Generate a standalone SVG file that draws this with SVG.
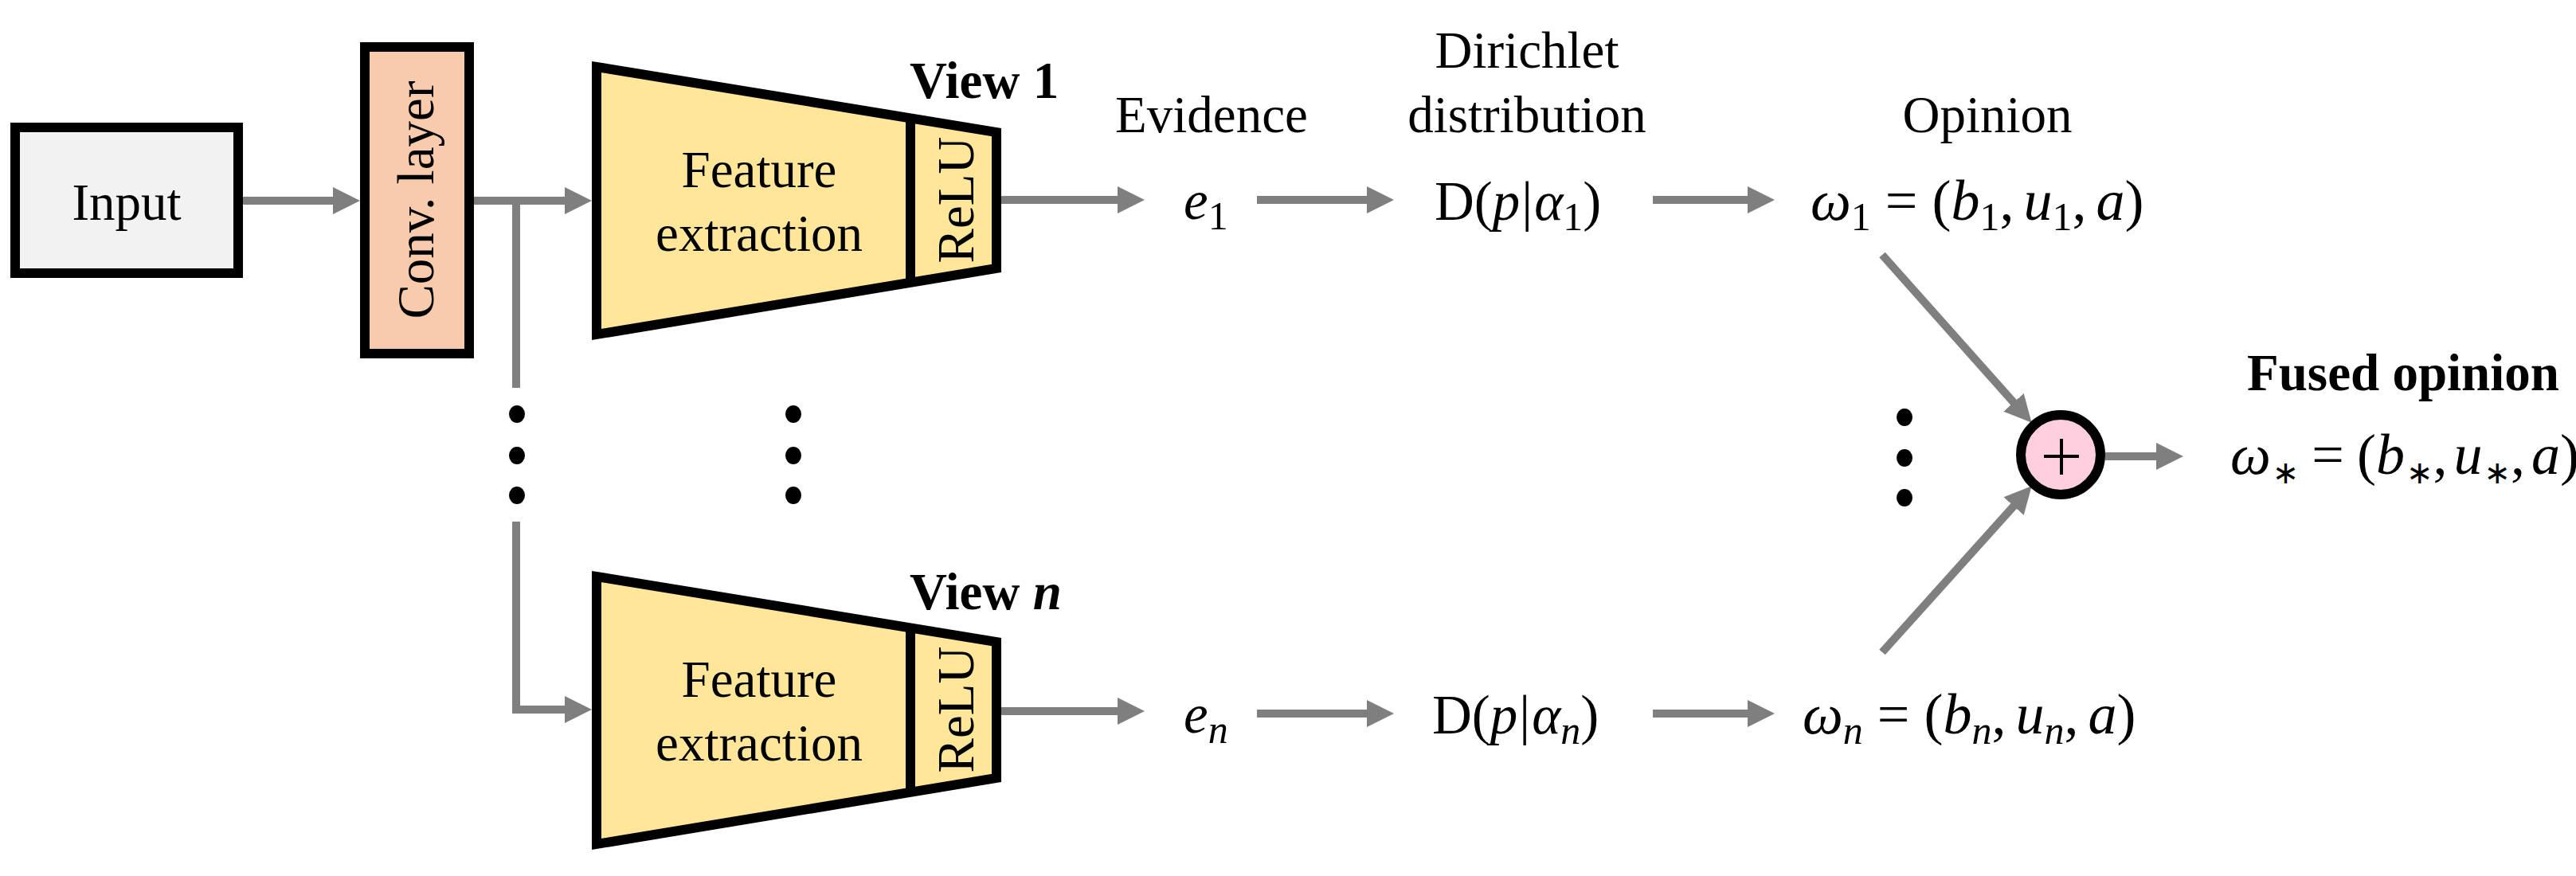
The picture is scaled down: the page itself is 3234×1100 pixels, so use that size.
<svg xmlns="http://www.w3.org/2000/svg" width="3234" height="1100" viewBox="0 0 3234 1100">
<style>
  .t { font-family: "Liberation Serif", "DejaVu Serif", serif; font-size: 65px; fill: #000; }
  .b { font-weight: bold; }
  .m { font-family: "Liberation Serif", "DejaVu Serif", serif; font-size: 72px; fill: #000; }
  .md { font-family: "Liberation Serif", "DejaVu Serif", serif; font-size: 69px; fill: #000; }
  .i { font-style: italic; }
  .s { font-size: 50px; }
  .st { font-family: "DejaVu Sans", sans-serif; font-size: 40px; }
  .blk { stroke: #000; stroke-width: 12; stroke-linejoin: miter; }
  .con { stroke: #7f7f7f; stroke-width: 10; fill: none; marker-end: url(#ah); }
  .plain { stroke: #7f7f7f; stroke-width: 10; fill: none; }
  .dot { fill: #000; }
</style>
<defs>
  <marker id="ah" markerUnits="userSpaceOnUse" markerWidth="34" markerHeight="34" refX="3" refY="17" orient="auto">
    <path d="M0,0 L34,17 L0,34 z" fill="#7f7f7f"/>
  </marker>
</defs>
<rect width="3234" height="1100" fill="#fff"/>

<g id="connectors">
  <line class="con" x1="305" y1="252" x2="421" y2="252"/>
  <line class="con" x1="595" y1="252" x2="712" y2="252"/>
  <line class="plain" x1="648" y1="252" x2="648" y2="487"/>
  <path class="con" d="M648,655 V891 H712"/>
  <line class="con" x1="1257" y1="251" x2="1406" y2="251"/>
  <line class="con" x1="1578" y1="251" x2="1719" y2="251"/>
  <line class="con" x1="2075" y1="251" x2="2197" y2="251"/>
  <line class="con" x1="1257" y1="893" x2="1406" y2="893"/>
  <line class="con" x1="1578" y1="896" x2="1719" y2="896"/>
  <line class="con" x1="2075" y1="896" x2="2197" y2="896"/>
  <line class="con" x1="2363" y1="320" x2="2530" y2="507.6"/>
  <line class="con" x1="2363" y1="819" x2="2530" y2="633.3"/>
  <line class="con" x1="2643" y1="573" x2="2710" y2="573"/>
</g>

<g id="input">
  <rect class="blk" x="19" y="160" width="280" height="183" fill="#f2f2f2"/>
  <text class="t" x="159" y="276" text-anchor="middle">Input</text>
</g>

<g id="conv">
  <rect class="blk" x="458" y="59" width="131" height="385" fill="#f8cbad"/>
  <text class="t" transform="translate(544,251) rotate(-90)" text-anchor="middle">Conv. layer</text>
</g>

<g id="view1">
  <polygon class="blk" points="749,84 1251,166 1251,337 749,420" fill="#ffe699"/>
  <line class="blk" x1="1143" y1="148" x2="1143" y2="356"/>
  <text class="t" x="953" y="235" text-anchor="middle">Feature</text>
  <text class="t" x="953" y="315" text-anchor="middle">extraction</text>
  <text class="t" transform="translate(1222,251) rotate(-90)" text-anchor="middle">ReLU</text>
  <text class="t b" x="1142" y="123" font-size="56">View 1</text>
</g>

<g id="viewn">
  <polygon class="blk" points="749,724 1251,806 1251,977 749,1060" fill="#ffe699"/>
  <line class="blk" x1="1143" y1="788" x2="1143" y2="996"/>
  <text class="t" x="953" y="875" text-anchor="middle">Feature</text>
  <text class="t" x="953" y="955" text-anchor="middle">extraction</text>
  <text class="t" transform="translate(1222,891) rotate(-90)" text-anchor="middle">ReLU</text>
  <text class="t b" x="1142" y="765" font-size="56">View <tspan font-style="italic">n</tspan></text>
</g>

<g id="dots">
  <ellipse class="dot" cx="649" cy="520" rx="10" ry="11"/>
  <ellipse class="dot" cx="649" cy="572" rx="10" ry="11"/>
  <ellipse class="dot" cx="649" cy="622" rx="10" ry="11"/>
  <ellipse class="dot" cx="996" cy="520" rx="10" ry="11"/>
  <ellipse class="dot" cx="996" cy="572" rx="10" ry="11"/>
  <ellipse class="dot" cx="996" cy="622" rx="10" ry="11"/>
  <ellipse class="dot" cx="2391" cy="524" rx="10" ry="11"/>
  <ellipse class="dot" cx="2391" cy="575" rx="10" ry="11"/>
  <ellipse class="dot" cx="2391" cy="625" rx="10" ry="11"/>
</g>

<g id="labels">
  <text class="t" x="1521" y="166" text-anchor="middle">Evidence</text>
  <text class="t" x="1917" y="85" text-anchor="middle">Dirichlet</text>
  <text class="t" x="1917" y="166" text-anchor="middle">distribution</text>
  <text class="t" x="2495" y="166" text-anchor="middle">Opinion</text>
  <text class="t b" x="3017" y="490" text-anchor="middle">Fused opinion</text>
</g>

<g id="evidence1">
  <text class="md" x="1486" y="275"><tspan class="i">e</tspan><tspan class="s" dy="13">1</tspan></text>
</g>
<g id="evidencen">
  <text class="md" x="1486" y="920"><tspan class="i">e</tspan><tspan class="s i" dy="13">n</tspan></text>
</g>
<g id="dirichlet1">
  <text class="md" x="1801" y="276">D(<tspan class="i">p</tspan><tspan dx="2">|</tspan><tspan class="i" dx="2">α</tspan><tspan class="s" dy="13">1</tspan><tspan dy="-13">)</tspan></text>
</g>
<g id="dirichletn">
  <text class="md" x="1798" y="921">D(<tspan class="i">p</tspan><tspan dx="2">|</tspan><tspan class="i" dx="2">α</tspan><tspan class="s i" dy="13">n</tspan><tspan dy="-13">)</tspan></text>
</g>
<g id="opinion1">
  <text class="m" x="2273" y="276"><tspan class="i">ω</tspan><tspan class="s" dy="13">1</tspan><tspan dy="-13" dx="18">=</tspan><tspan dx="18">(</tspan><tspan class="i">b</tspan><tspan class="s" dy="13">1</tspan><tspan dy="-13">,</tspan><tspan class="i" dx="12">u</tspan><tspan class="s" dy="13">1</tspan><tspan dy="-13">,</tspan><tspan class="i" dx="12">a</tspan>)</text>
</g>
<g id="opinionn">
  <text class="m" x="2263" y="921"><tspan class="i">ω</tspan><tspan class="s i" dy="13">n</tspan><tspan dy="-13" dx="18">=</tspan><tspan dx="18">(</tspan><tspan class="i">b</tspan><tspan class="s i" dy="13">n</tspan><tspan dy="-13">,</tspan><tspan class="i" dx="12">u</tspan><tspan class="s i" dy="13">n</tspan><tspan dy="-13">,</tspan><tspan class="i" dx="12">a</tspan>)</text>
</g>

<g id="fusion">
  <circle cx="2587" cy="571" r="50" fill="#ffcfdf" stroke="#000" stroke-width="12"/>
  <line x1="2566" y1="573" x2="2610" y2="573" stroke="#000" stroke-width="4"/>
  <line x1="2588" y1="551" x2="2588" y2="596" stroke="#000" stroke-width="4"/>
</g>

<g id="fused">
  <text class="m" x="2800" y="595"><tspan class="i">ω</tspan><tspan class="st" dy="12" dx="2">∗</tspan><tspan dy="-12" dx="16">=</tspan><tspan dx="16">(</tspan><tspan class="i">b</tspan><tspan class="st" dy="12" dx="2">∗</tspan><tspan dy="-12">,</tspan><tspan class="i" dx="8">u</tspan><tspan class="st" dy="12" dx="2">∗</tspan><tspan dy="-12">,</tspan><tspan class="i" dx="8">a</tspan>)</text>
</g>
</svg>
